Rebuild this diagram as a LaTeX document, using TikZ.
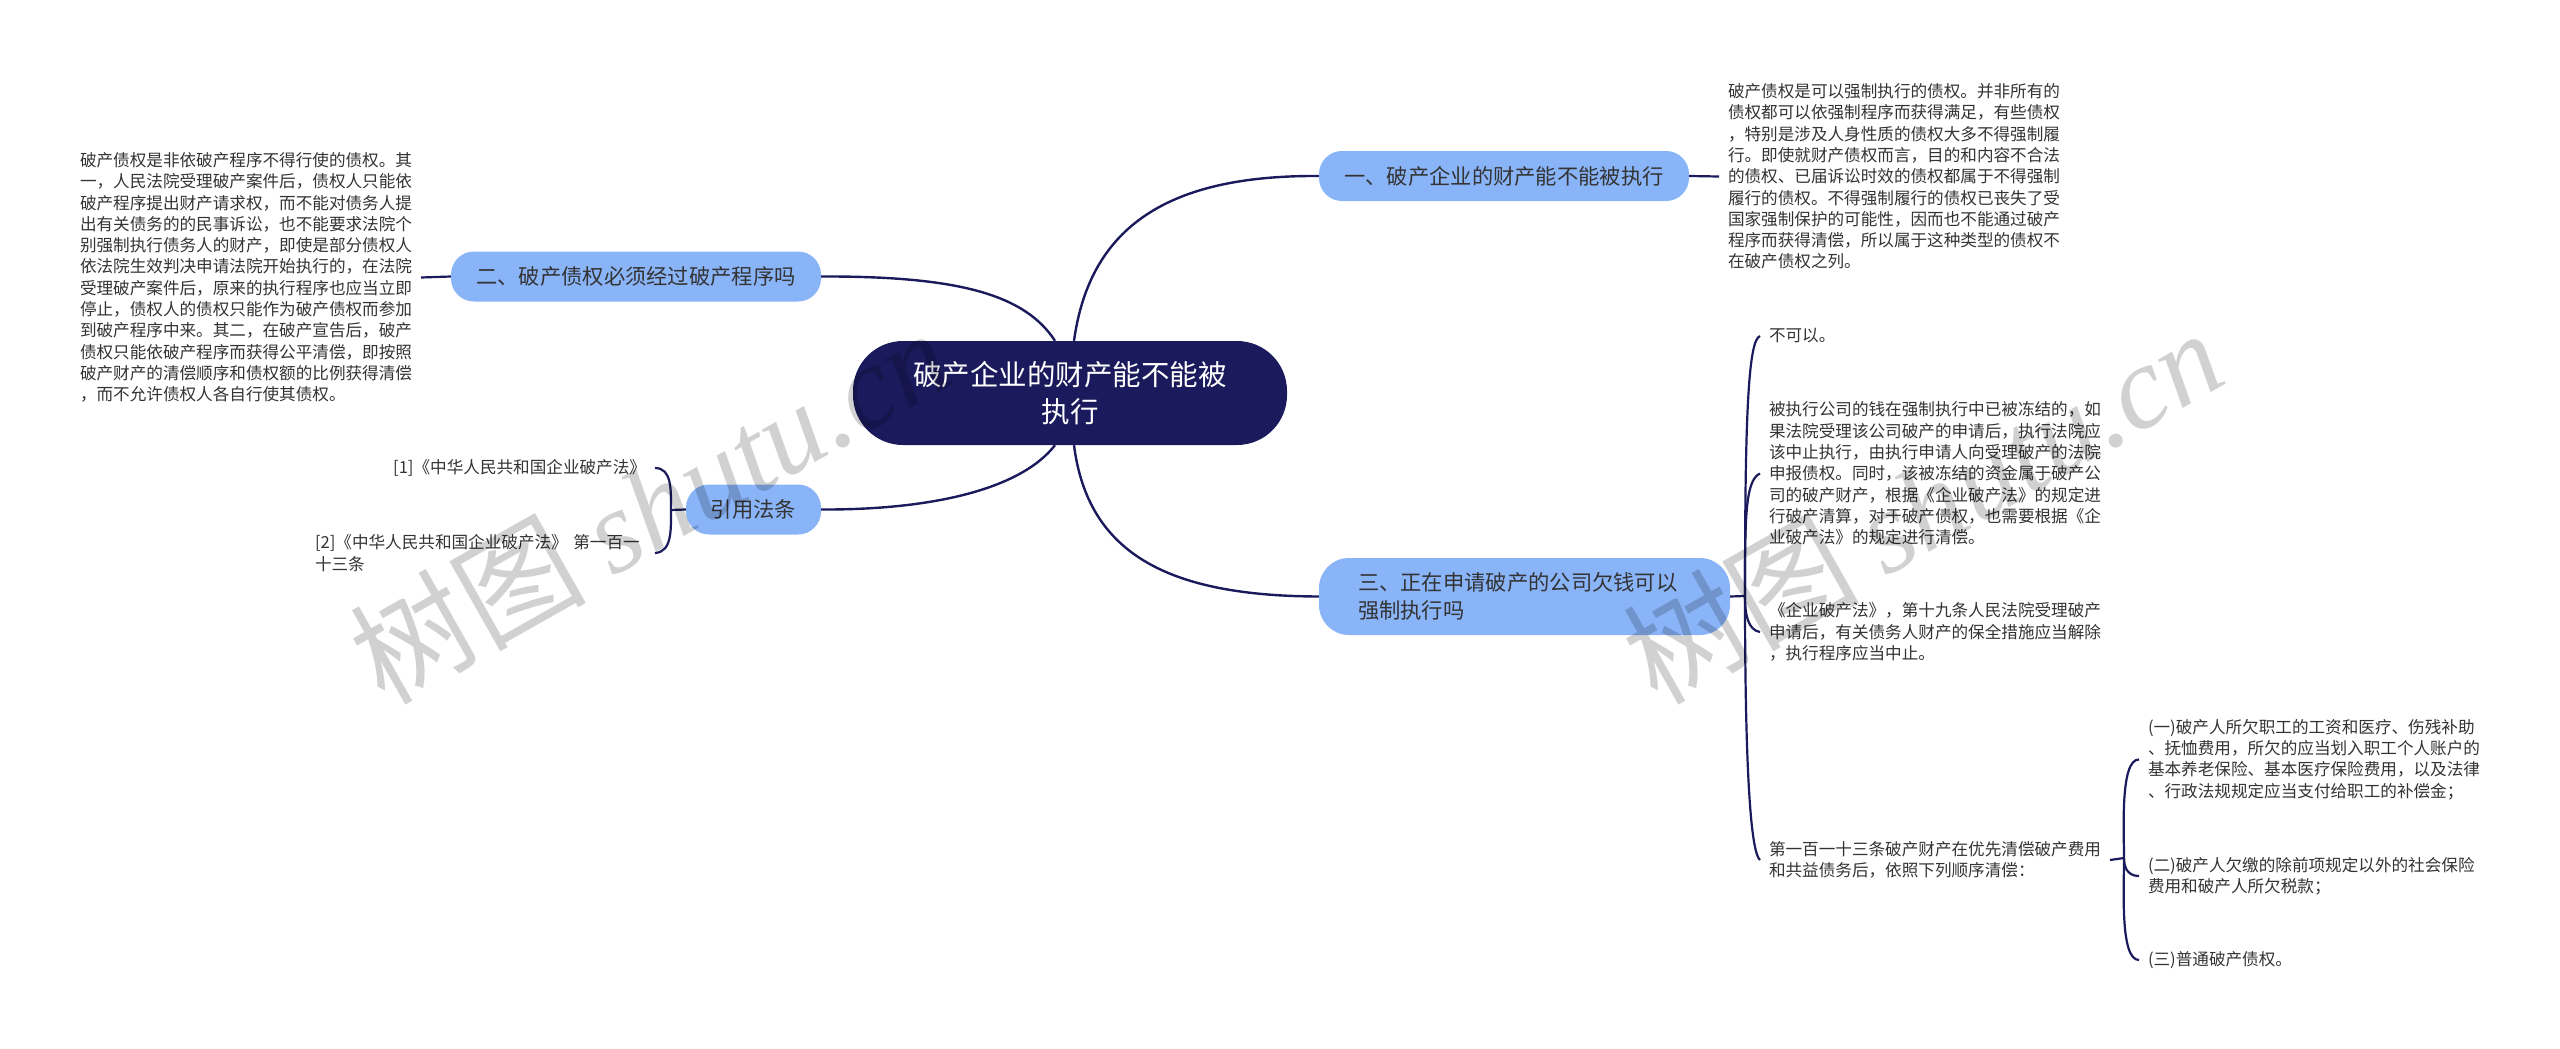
\documentclass[tikz,border=0pt]{standalone}
\usepackage{fontspec}
\setmainfont{Noto Sans CJK SC}
\newfontfamily\markfont{Liberation Serif}
\usetikzlibrary{calc}
\usepackage{xcolor}
\definecolor{hubblue}{HTML}{1A1A5C}
\definecolor{branchblue}{HTML}{8AB4F8}
\definecolor{bodygray}{HTML}{333333}
\tikzset{
    hubnode/.style={fill=hubblue, text=white, rounded corners=50pt, minimum width=434pt, minimum height=104pt, inner sep=0pt, align=center, font=\fontsize{28.5}{37}\selectfont},
    branchnode/.style={fill=branchblue, text=bodygray, rounded corners=23pt, minimum height=50pt, inner sep=0pt, font=\fontsize{21.3}{28.5}\selectfont},
    leaftext/.style={text=bodygray, inner ysep=0pt, inner xsep=0pt, outer xsep=9pt, outer ysep=0pt, align=left, font=\fontsize{16.6}{21.3}\selectfont},
    mainlink/.style={draw=hubblue, line width=2.4pt},
    forklink/.style={draw=hubblue, line width=2.2pt},
    watermark/.style={black, opacity=0.18, rotate=29.5, inner sep=0pt}
}

\begin{document}
\begin{tikzpicture}[x=1pt,y=-1pt]
        \path[fill=white,use as bounding box] (0,0) rectangle (2560,1049);

        \coordinate (rootC) at (1070,393);
        \coordinate (oneC) at (1504,176);
        \coordinate (twoC) at (636,276.5);
        \coordinate (threeC) at (1524.5,596.5);
        \coordinate (citeC) at (753.5,509.5);
        \coordinate (citeFork) at (671,510);
        \coordinate (threeFork) at (1745,596);
        \coordinate (lastFork) at (2124,858);

        \node[hubnode] (root) at (rootC) {破产企业的财产能不能被\\执行};
        \node[branchnode, minimum width=370pt] (one) at (oneC) {一、破产企业的财产能不能被执行};
        \node[branchnode, minimum width=370pt] (two) at (twoC) {二、破产债权必须经过破产程序吗};
        \node[branchnode, minimum height=77pt, rounded corners=30pt, text width=333pt, inner xsep=39pt, align=left] (three) at (threeC) {三、正在申请破产的公司欠钱可以\\强制执行吗};
        \node[branchnode, minimum width=135pt] (cite) at (citeC) {引用法条};

        % right side, top
        \node[leaftext, anchor=west] (oneText) at (1719,176.5) {破产债权是可以强制执行的债权。并非所有的\\债权都可以依强制程序而获得满足，有些债权\\，特别是涉及人身性质的债权大多不得强制履\\行。即使就财产债权而言，目的和内容不合法\\的债权、已届诉讼时效的债权都属于不得强制\\履行的债权。不得强制履行的债权已丧失了受\\国家强制保护的可能性，因而也不能通过破产\\程序而获得清偿，所以属于这种类型的债权不\\在破产债权之列。};

        % left side
        \node[leaftext, anchor=east] (twoText) at (421,277.5) {破产债权是非依破产程序不得行使的债权。其\\一，人民法院受理破产案件后，债权人只能依\\破产程序提出财产请求权，而不能对债务人提\\出有关债务的的民事诉讼，也不能要求法院个\\别强制执行债务人的财产，即使是部分债权人\\依法院生效判决申请法院开始执行的，在法院\\受理破产案件后，原来的执行程序也应当立即\\停止，债权人的债权只能作为破产债权而参加\\到破产程序中来。其二，在破产宣告后，破产\\债权只能依破产程序而获得公平清偿，即按照\\破产财产的清偿顺序和债权额的比例获得清偿\\，而不允许债权人各自行使其债权。};
        \node[leaftext, anchor=east] (citeOne) at (655,468) {[1]《中华人民共和国企业破产法》};
        \node[leaftext, anchor=east, text width=331pt] (citeTwo) at (655,553) {[2]《中华人民共和国企业破产法》 第一百一\\十三条};

        % right side, question three
        \node[leaftext, anchor=west] (threeA) at (1760,336) {不可以。};
        \node[leaftext, anchor=west] (threeB) at (1760,473.5) {被执行公司的钱在强制执行中已被冻结的，如\\果法院受理该公司破产的申请后，执行法院应\\该中止执行，由执行申请人向受理破产的法院\\申报债权。同时，该被冻结的资金属于破产公\\司的破产财产，根据《企业破产法》的规定进\\行破产清算，对于破产债权，也需要根据《企\\业破产法》的规定进行清偿。};
        \node[leaftext, anchor=west] (threeC) at (1760,632) {《企业破产法》，第十九条人民法院受理破产\\申请后，有关债务人财产的保全措施应当解除\\，执行程序应当中止。};
        \node[leaftext, anchor=west] (threeD) at (1760,860) {第一百一十三条破产财产在优先清偿破产费用\\和共益债务后，依照下列顺序清偿：};
        \node[leaftext, anchor=west] (lastA) at (2139,759.5) {(一)破产人所欠职工的工资和医疗、伤残补助\\、抚恤费用，所欠的应当划入职工个人账户的\\基本养老保险、基本医疗保险费用，以及法律\\、行政法规规定应当支付给职工的补偿金；};
        \node[leaftext, anchor=west] (lastB) at (2139,876) {(二)破产人欠缴的除前项规定以外的社会保险\\费用和破产人所欠税款；};
        \node[leaftext, anchor=west] (lastC) at (2139,960) {(三)普通破产债权。};

        % branches out of the root
        \draw[mainlink] ($(root.north)+(4,0)$) .. controls (1090,225) and (1170,175) .. (one.west);
        \draw[mainlink] ($(root.south)+(4,0)$) .. controls (1088,555) and (1170,596) .. (three.west);
        \draw[mainlink] ($(root.north)+(-15,0)$) .. controls (1025,295) and (960,276) .. (two.east);
        \draw[mainlink] ($(root.south)+(-15,0)$) .. controls (1020,490) and (930,510) .. (cite.east);

        \draw[forklink] (one.east) -- (oneText.west);
        \draw[forklink] (two.west) -- (twoText.east);

        \draw[forklink] (cite.west) -- (citeFork);
        \draw[forklink] (citeFork) .. controls (671,490) and (672,468) .. (citeOne.east);
        \draw[forklink] (citeFork) .. controls (671,530) and (672,552) .. (citeTwo.east);

        \draw[forklink] (three.east) -- (threeFork);
        \draw[forklink] (threeFork) .. controls (1745,420) and (1748,340) .. (threeA.west);
        \draw[forklink] (threeFork) .. controls (1745,520) and (1745,480) .. (threeB.west);
        \draw[forklink] (threeFork) .. controls (1745,615) and (1748,630) .. (threeC.west);
        \draw[forklink] (threeFork) .. controls (1745,720) and (1748,850) .. (threeD.west);

        \draw[forklink] (threeD.east) -- (lastFork);
        \draw[forklink] (lastFork) .. controls (2124,830) and (2120,759) .. (lastA.west);
        \draw[forklink] (lastFork) .. controls (2124,865) and (2126,876) .. (lastB.west);
        \draw[forklink] (lastFork) .. controls (2124,890) and (2120,960) .. (lastC.west);

        \foreach \p/\q in {649/markLeft,1922/markRight}{
            \node[watermark] (\q) at (\p,505) {\fontsize{118}{118}\selectfont 树图 \markfont\itshape shutu.cn};
        }
    \end{tikzpicture}
\end{document}
